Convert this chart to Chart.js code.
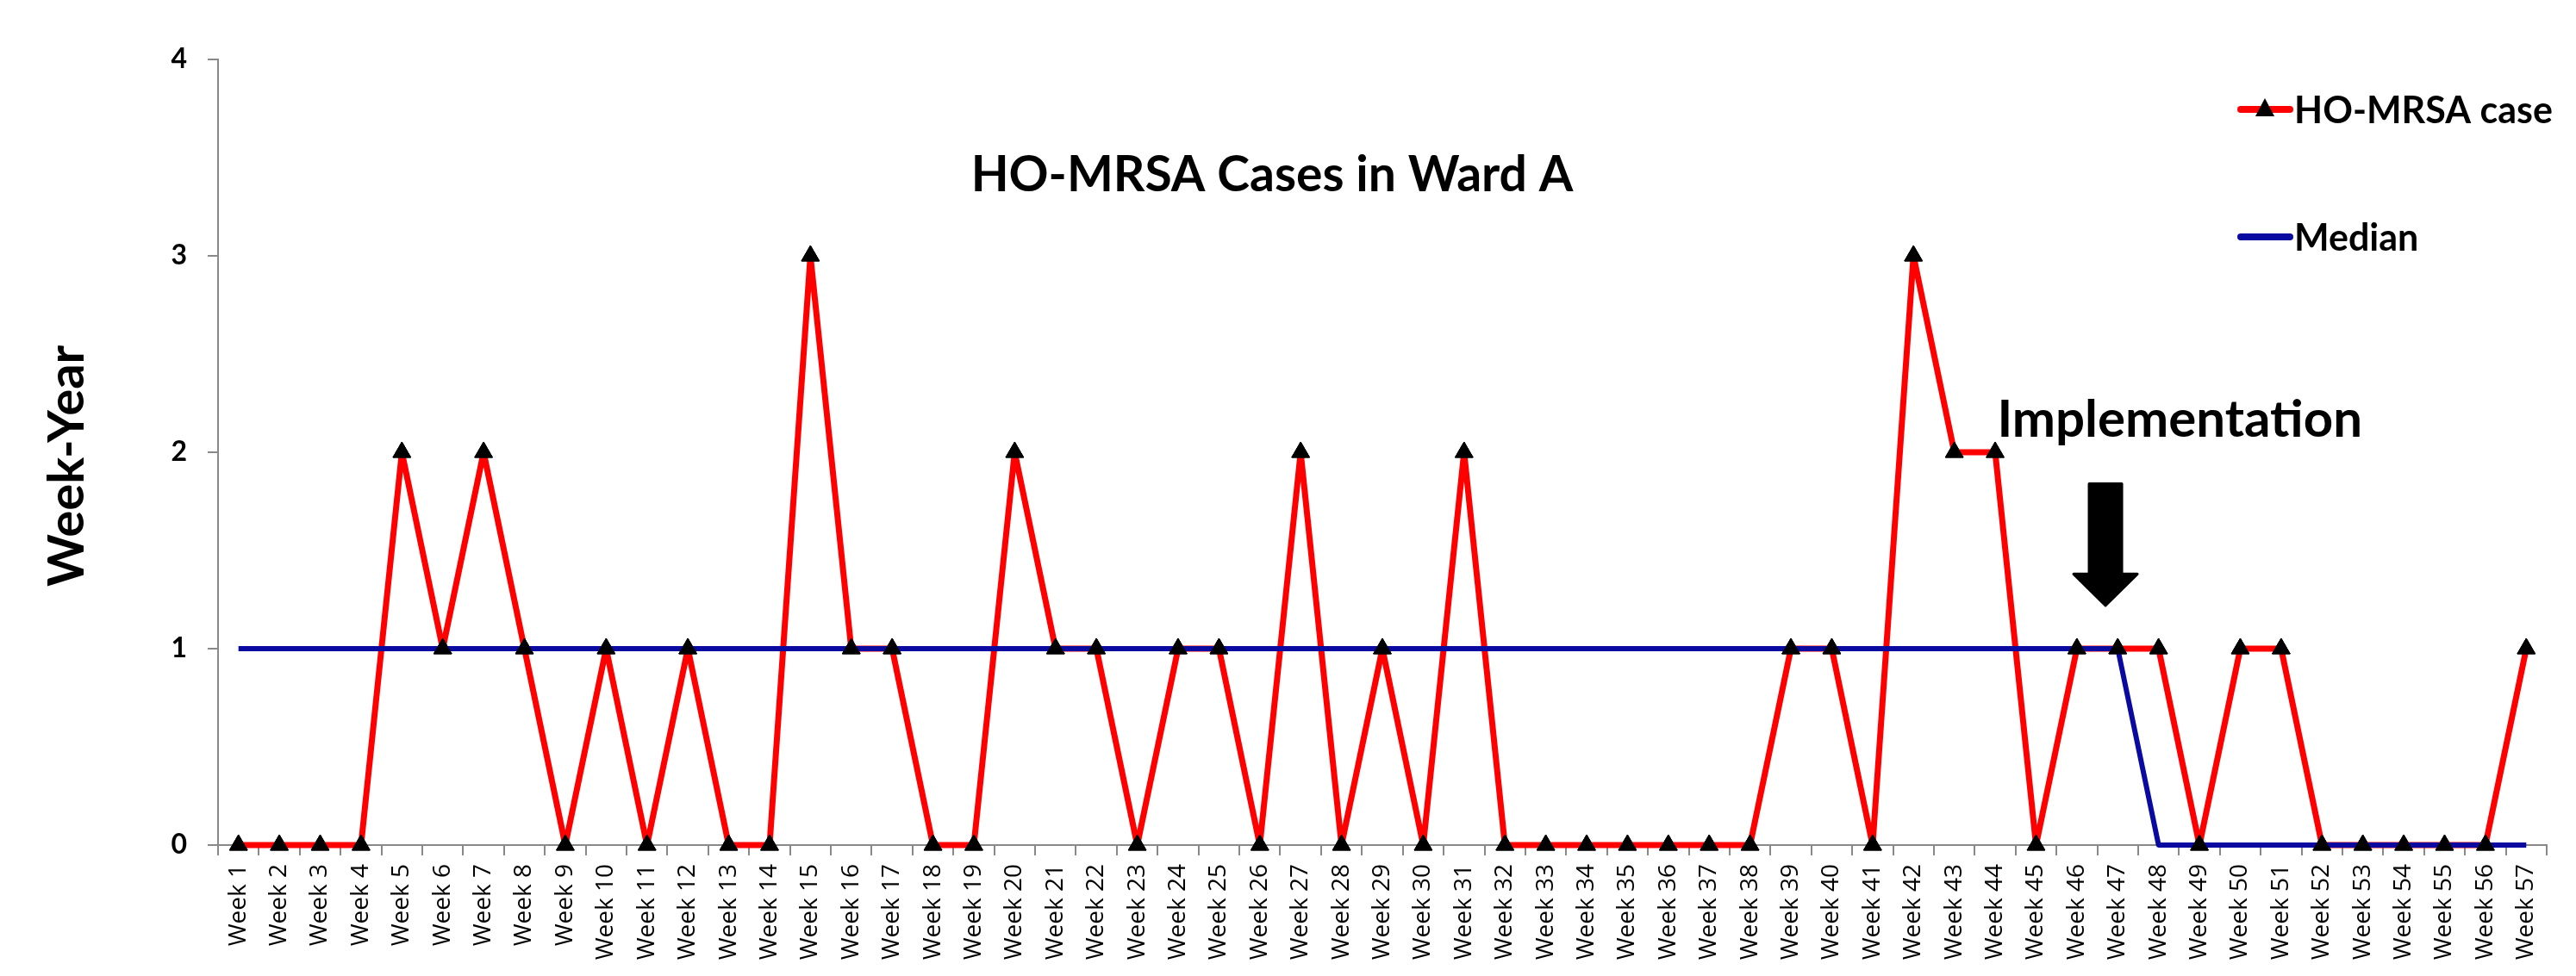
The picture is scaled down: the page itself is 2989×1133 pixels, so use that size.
<!DOCTYPE html>
<html>
<head>
<meta charset="utf-8">
<script src="https://cdn.jsdelivr.net/npm/chart.js@4"></script>
<style>
  html, body { margin: 0; padding: 0; background: #fff; }
  #wrap { width: 2989px; height: 1133px; }
</style>
</head>
<body>
<div id="wrap"><canvas id="chart"></canvas></div>
<script>
// === Data ===
const weeks = [];
for (let i = 1; i <= 57; i++) weeks.push('Week ' + i);

const cases = [0, 0, 0, 0, 2, 1, 2, 1, 0, 1, 0, 1, 0, 0, 3, 1, 1, 0, 0, 2,
  1, 1, 0, 1, 1, 0, 2, 0, 1, 0, 2, 0, 0, 0, 0, 0, 0, 0, 1, 1,
  0, 3, 2, 2, 0, 1, 1, 1, 0, 1, 1, 0, 0, 0, 0, 0, 1];

const median = [1, 1, 1, 1, 1, 1, 1, 1, 1, 1, 1, 1, 1, 1, 1, 1, 1, 1, 1, 1,
  1, 1, 1, 1, 1, 1, 1, 1, 1, 1, 1, 1, 1, 1, 1, 1, 1, 1, 1, 1,
  1, 1, 1, 1, 1, 1, 1, 0, 0, 0, 0, 0, 0, 0, 0, 0, 0];

const yTicks = [0, 1, 2, 3, 4];

const chartTitle = 'HO-MRSA Cases in Ward A';
const yTitle = 'Week-Year';
const noteText = 'Implementation';

const RED = '#ff0000';
const BLUE = '#0a0aa0';
const AXIS = '#898989';
const bold = s => 'bold ' + s + 'px Lato, "Open Sans", sans-serif';

// === Extra drawing: title, y title, legend, arrow, markers on top ===
const decor = {
  id: 'decor',
  afterDatasetsDraw(chart) {
    const ctx = chart.ctx;
    const x = chart.scales.x, y = chart.scales.y;
    const area = chart.chartArea;

    // markers on top of the median line
    chart.getDatasetMeta(0).data.forEach(p => p.draw(ctx));

    ctx.save();
    ctx.fillStyle = '#000';

    // chart title
    ctx.font = bold(57);
    ctx.textAlign = 'center';
    ctx.textBaseline = 'alphabetic';
    ctx.fillText(chartTitle, x.getPixelForValue(25.3), y.getPixelForValue(3.33));

    // note
    ctx.textAlign = 'left';
    ctx.font = bold(60);
    ctx.fillText(noteText, x.getPixelForValue(43.05), y.getPixelForValue(2.08));

    // arrow
    const ax = x.getPixelForValue(45.7);
    const top = y.getPixelForValue(1.84), neck = y.getPixelForValue(1.38), tip = y.getPixelForValue(1.22);
    ctx.beginPath();
    ctx.moveTo(ax - 19, top);
    ctx.lineTo(ax + 19, top);
    ctx.lineTo(ax + 19, neck);
    ctx.lineTo(ax + 37, neck);
    ctx.lineTo(ax, tip);
    ctx.lineTo(ax - 37, neck);
    ctx.lineTo(ax - 19, neck);
    ctx.closePath();
    ctx.lineJoin = 'round';
    ctx.lineWidth = 3;
    ctx.strokeStyle = '#000';
    ctx.fill();
    ctx.stroke();

    // y title
    ctx.save();
    ctx.translate(78, y.getPixelForValue(1.93));
    ctx.rotate(-Math.PI / 2);
    ctx.textAlign = 'center';
    ctx.textBaseline = 'middle';
    ctx.font = bold(58);
    ctx.fillText(yTitle, 0, 0);
    ctx.restore();

    // legend
    const lx = area.right - 355;
    const items = [
      { label: chart.data.datasets[0].label, color: RED, marker: true, yy: 127 },
      { label: chart.data.datasets[1].label, color: BLUE, marker: false, yy: 275 }
    ];
    items.forEach(it => {
      ctx.beginPath();
      ctx.lineCap = 'round';
      ctx.lineWidth = 8;
      ctx.strokeStyle = it.color;
      ctx.moveTo(lx, it.yy);
      ctx.lineTo(lx + 57, it.yy);
      ctx.stroke();
      if (it.marker) {
        ctx.beginPath();
        ctx.moveTo(lx + 28, it.yy - 13);
        ctx.lineTo(lx + 39, it.yy + 8);
        ctx.lineTo(lx + 17, it.yy + 8);
        ctx.closePath();
        ctx.fill();
      }
      ctx.font = bold(43);
      ctx.textAlign = 'left';
      ctx.textBaseline = 'middle';
      ctx.fillText(it.label, lx + 62, it.yy + 2);
    });
    ctx.restore();
  }
};

const ctx = document.getElementById('chart').getContext('2d');
new Chart(ctx, {
  type: 'line',
  data: {
    labels: weeks,
    datasets: [{
      label: 'HO-MRSA case',
      data: cases,
      borderColor: RED,
      borderWidth: 7,
      borderJoinStyle: 'round',
      tension: 0,
      pointStyle: 'triangle',
      pointRadius: 12,
      pointBackgroundColor: '#000',
      pointBorderColor: '#000',
      pointBorderWidth: 1,
      clip: false,
      order: 2
    }, {
      label: 'Median',
      data: median,
      borderColor: BLUE,
      borderWidth: 6,
      borderJoinStyle: 'round',
      tension: 0,
      pointRadius: 0,
      clip: false,
      order: 1
    }]
  },
  options: {
    responsive: true,
    maintainAspectRatio: false,
    animation: false,
    layout: { padding: { top: 69, right: 34, left: 0, bottom: 0 } },
    plugins: {
      legend: { display: false },
      title: { display: false },
      tooltip: { enabled: false }
    },
    scales: {
      x: {
        offset: true,
        afterFit: s => { s.height = 152; },
        grid: { offset: true, drawOnChartArea: false, color: AXIS, lineWidth: 2, tickLength: 12 },
        border: { color: AXIS, width: 2 },
        ticks: {
          autoSkip: false,
          minRotation: 90,
          maxRotation: 90,
          padding: 10,
          color: '#000',
          font: { family: '"Open Sans", sans-serif', size: 28 }
        }
      },
      y: {
        min: 0,
        max: 4,
        afterFit: s => { s.width = 253; },
        afterBuildTicks: s => { s.ticks = yTicks.map(v => ({ value: v })); },
        grid: { drawOnChartArea: false, color: AXIS, lineWidth: 2, tickLength: 12 },
        border: { color: AXIS, width: 2 },
        ticks: {
          padding: 24,
          color: '#000',
          font: { family: 'Lato, sans-serif', size: 32, weight: 'bold' }
        }
      }
    }
  },
  plugins: [decor]
});
</script>
</body>
</html>
